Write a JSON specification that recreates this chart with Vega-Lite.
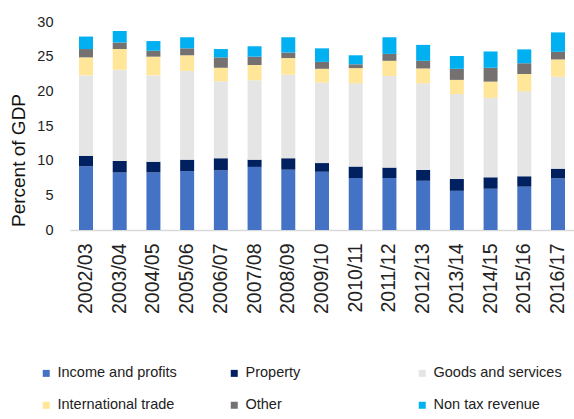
{
  "$schema": "https://vega.github.io/schema/vega-lite/v6.json",
  "autosize": "none",
  "padding": {"left": 70, "top": 22, "right": 0, "bottom": 189},
  "width": 504,
  "height": 208,
  "background": "white",
  "config": {"view": {"stroke": null}, "font": "Liberation Sans"},
  "data": {"values": [
    {"year": "2002/03", "type": "Income and profits", "value": 9.2},
    {"year": "2002/03", "type": "Property", "value": 1.5},
    {"year": "2002/03", "type": "Goods and services", "value": 11.6},
    {"year": "2002/03", "type": "International trade", "value": 2.6},
    {"year": "2002/03", "type": "Other", "value": 1.2},
    {"year": "2002/03", "type": "Non tax revenue", "value": 1.8},
    {"year": "2003/04", "type": "Income and profits", "value": 8.3},
    {"year": "2003/04", "type": "Property", "value": 1.65},
    {"year": "2003/04", "type": "Goods and services", "value": 13.15},
    {"year": "2003/04", "type": "International trade", "value": 3.0},
    {"year": "2003/04", "type": "Other", "value": 0.95},
    {"year": "2003/04", "type": "Non tax revenue", "value": 1.65},
    {"year": "2004/05", "type": "Income and profits", "value": 8.3},
    {"year": "2004/05", "type": "Property", "value": 1.55},
    {"year": "2004/05", "type": "Goods and services", "value": 12.45},
    {"year": "2004/05", "type": "International trade", "value": 2.7},
    {"year": "2004/05", "type": "Other", "value": 0.85},
    {"year": "2004/05", "type": "Non tax revenue", "value": 1.4},
    {"year": "2005/06", "type": "Income and profits", "value": 8.5},
    {"year": "2005/06", "type": "Property", "value": 1.65},
    {"year": "2005/06", "type": "Goods and services", "value": 12.8},
    {"year": "2005/06", "type": "International trade", "value": 2.25},
    {"year": "2005/06", "type": "Other", "value": 1.0},
    {"year": "2005/06", "type": "Non tax revenue", "value": 1.6},
    {"year": "2006/07", "type": "Income and profits", "value": 8.6},
    {"year": "2006/07", "type": "Property", "value": 1.75},
    {"year": "2006/07", "type": "Goods and services", "value": 11.1},
    {"year": "2006/07", "type": "International trade", "value": 1.95},
    {"year": "2006/07", "type": "Other", "value": 1.5},
    {"year": "2006/07", "type": "Non tax revenue", "value": 1.2},
    {"year": "2007/08", "type": "Income and profits", "value": 9.1},
    {"year": "2007/08", "type": "Property", "value": 1.05},
    {"year": "2007/08", "type": "Goods and services", "value": 11.45},
    {"year": "2007/08", "type": "International trade", "value": 2.2},
    {"year": "2007/08", "type": "Other", "value": 1.2},
    {"year": "2007/08", "type": "Non tax revenue", "value": 1.5},
    {"year": "2008/09", "type": "Income and profits", "value": 8.7},
    {"year": "2008/09", "type": "Property", "value": 1.65},
    {"year": "2008/09", "type": "Goods and services", "value": 12.05},
    {"year": "2008/09", "type": "International trade", "value": 2.4},
    {"year": "2008/09", "type": "Other", "value": 0.8},
    {"year": "2008/09", "type": "Non tax revenue", "value": 2.2},
    {"year": "2009/10", "type": "Income and profits", "value": 8.4},
    {"year": "2009/10", "type": "Property", "value": 1.25},
    {"year": "2009/10", "type": "Goods and services", "value": 11.6},
    {"year": "2009/10", "type": "International trade", "value": 2.0},
    {"year": "2009/10", "type": "Other", "value": 1.0},
    {"year": "2009/10", "type": "Non tax revenue", "value": 1.95},
    {"year": "2010/11", "type": "Income and profits", "value": 7.5},
    {"year": "2010/11", "type": "Property", "value": 1.65},
    {"year": "2010/11", "type": "Goods and services", "value": 12.0},
    {"year": "2010/11", "type": "International trade", "value": 2.2},
    {"year": "2010/11", "type": "Other", "value": 0.55},
    {"year": "2010/11", "type": "Non tax revenue", "value": 1.3},
    {"year": "2011/12", "type": "Income and profits", "value": 7.5},
    {"year": "2011/12", "type": "Property", "value": 1.5},
    {"year": "2011/12", "type": "Goods and services", "value": 13.2},
    {"year": "2011/12", "type": "International trade", "value": 2.2},
    {"year": "2011/12", "type": "Other", "value": 1.0},
    {"year": "2011/12", "type": "Non tax revenue", "value": 2.4},
    {"year": "2012/13", "type": "Income and profits", "value": 7.1},
    {"year": "2012/13", "type": "Property", "value": 1.55},
    {"year": "2012/13", "type": "Goods and services", "value": 12.5},
    {"year": "2012/13", "type": "International trade", "value": 2.15},
    {"year": "2012/13", "type": "Other", "value": 1.1},
    {"year": "2012/13", "type": "Non tax revenue", "value": 2.3},
    {"year": "2013/14", "type": "Income and profits", "value": 5.65},
    {"year": "2013/14", "type": "Property", "value": 1.7},
    {"year": "2013/14", "type": "Goods and services", "value": 12.25},
    {"year": "2013/14", "type": "International trade", "value": 2.05},
    {"year": "2013/14", "type": "Other", "value": 1.6},
    {"year": "2013/14", "type": "Non tax revenue", "value": 1.85},
    {"year": "2014/15", "type": "Income and profits", "value": 5.95},
    {"year": "2014/15", "type": "Property", "value": 1.65},
    {"year": "2014/15", "type": "Goods and services", "value": 11.45},
    {"year": "2014/15", "type": "International trade", "value": 2.35},
    {"year": "2014/15", "type": "Other", "value": 2.0},
    {"year": "2014/15", "type": "Non tax revenue", "value": 2.35},
    {"year": "2015/16", "type": "Income and profits", "value": 6.25},
    {"year": "2015/16", "type": "Property", "value": 1.5},
    {"year": "2015/16", "type": "Goods and services", "value": 12.25},
    {"year": "2015/16", "type": "International trade", "value": 2.5},
    {"year": "2015/16", "type": "Other", "value": 1.55},
    {"year": "2015/16", "type": "Non tax revenue", "value": 2.0},
    {"year": "2016/17", "type": "Income and profits", "value": 7.45},
    {"year": "2016/17", "type": "Property", "value": 1.4},
    {"year": "2016/17", "type": "Goods and services", "value": 13.25},
    {"year": "2016/17", "type": "International trade", "value": 2.5},
    {"year": "2016/17", "type": "Other", "value": 1.1},
    {"year": "2016/17", "type": "Non tax revenue", "value": 2.8}
  ]},
  "transform": [
    {"calculate": "indexof(['Income and profits', 'Property', 'Goods and services', 'International trade', 'Other', 'Non tax revenue'], datum.type)", "as": "stackRank"}
  ],
  "mark": {"type": "bar"},
  "encoding": {
    "x": {
      "field": "year", "type": "nominal", "sort": null,
      "scale": {"paddingInner": 0.585, "paddingOuter": 0.267},
      "axis": {
        "title": null, "labelAngle": 270, "labelFontSize": 19.5, "labelColor": "#222222",
        "labelFont": "Liberation Sans", "ticks": false, "tickSize": 0, "labelPadding": 13,
        "domainColor": "#d9d9d9", "domainWidth": 1.5, "grid": false
      }
    },
    "y": {
      "field": "value", "type": "quantitative", "stack": "zero",
      "scale": {"domain": [0, 30], "nice": false},
      "axis": {
        "title": "Percent of GDP", "values": [0, 5, 10, 15, 20, 25, 30],
        "domain": false, "ticks": false, "tickSize": 0, "grid": false,
        "labelFontSize": 14.5, "labelColor": "#222222", "labelPadding": 17,
        "titleFontSize": 19, "titleFontWeight": "normal", "titleColor": "#111111",
        "titleAngle": 270, "titleX": -52, "titleY": 138, "titleAlign": "center", "titleBaseline": "middle"
      }
    },
    "color": {
      "field": "type", "type": "nominal",
      "sort": ["Income and profits", "Property", "Goods and services", "International trade", "Other", "Non tax revenue"],
      "scale": {
        "domain": ["Income and profits", "Property", "Goods and services", "International trade", "Other", "Non tax revenue"],
        "range": ["#4472C4", "#002060", "#E5E5E5", "#FFE699", "#767171", "#00B0F0"]
      },
      "legend": {
        "title": null, "orient": "none", "legendX": -31, "legendY": 344, "direction": "horizontal",
        "columns": 3, "gridAlign": "all", "columnPadding": 41, "rowPadding": 17,
        "symbolType": "square", "symbolSize": 49, "symbolStrokeWidth": 0, "labelOffset": 4,
        "labelFontSize": 14.5, "labelColor": "#222222", "labelLimit": 300
      }
    },
    "order": {"field": "stackRank", "type": "quantitative", "sort": "ascending"}
  }
}
